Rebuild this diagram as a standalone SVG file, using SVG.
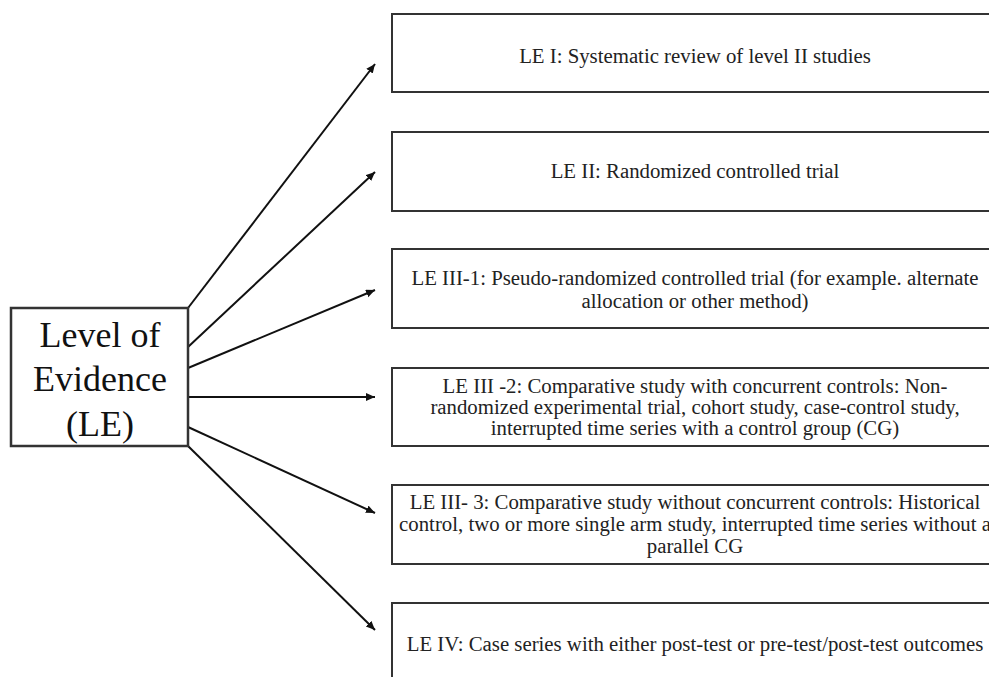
<svg xmlns="http://www.w3.org/2000/svg" width="989" height="677" viewBox="0 0 989 677">
<style>
.box{fill:#fff;stroke:#333;stroke-width:2}
.lbl{font-family:'Liberation Serif','Tinos','Times New Roman','DejaVu Serif',serif;font-size:20.8px;fill:#222;text-anchor:middle}
.big{font-family:'Liberation Serif','Tinos','Times New Roman','DejaVu Serif',serif;font-size:36px;fill:#111;text-anchor:middle}
.arr{stroke:#111;stroke-width:2;fill:none;marker-end:url(#ah)}
</style>
<defs>
<marker id="ah" markerUnits="userSpaceOnUse" markerWidth="10" markerHeight="10" refX="9" refY="4" orient="auto">
<path d="M0,0 L9,4 L0,8 z" fill="#111"/>
</marker>
</defs>
<rect width="989" height="677" fill="#fff"/>
<g id="connectors">
<line class="arr" x1="188" y1="308" x2="375" y2="64"/>
<line class="arr" x1="188" y1="347" x2="375" y2="172"/>
<line class="arr" x1="188" y1="368" x2="375" y2="290"/>
<line class="arr" x1="188" y1="397" x2="375" y2="397"/>
<line class="arr" x1="188" y1="427" x2="375" y2="513"/>
<line class="arr" x1="188" y1="446" x2="375" y2="630"/>
</g>
<g id="node-le">
<rect x="11" y="308" width="177" height="138" fill="#fff" stroke="#333" stroke-width="2.5"/>
<text class="big" x="100" y="347">Level of</text>
<text class="big" x="100" y="391">Evidence</text>
<text class="big" x="100" y="436">(LE)</text>
</g>
<g id="node-le1">
<rect class="box" x="392" y="14" width="620" height="78"/>
<text class="lbl" x="695" y="63">LE I: Systematic review of level II studies</text>
</g>
<g id="node-le2">
<rect class="box" x="392" y="132" width="620" height="79"/>
<text class="lbl" x="695" y="178">LE II: Randomized controlled trial</text>
</g>
<g id="node-le3-1">
<rect class="box" x="392" y="249" width="620" height="79"/>
<text class="lbl" x="695" y="285">LE III-1: Pseudo-randomized controlled trial (for example. alternate</text>
<text class="lbl" x="695" y="308">allocation or other method)</text>
</g>
<g id="node-le3-2">
<rect class="box" x="392" y="368" width="620" height="78"/>
<text class="lbl" x="695" y="393">LE III -2: Comparative study with concurrent controls: Non-</text>
<text class="lbl" x="695" y="414">randomized experimental trial, cohort study, case-control study,</text>
<text class="lbl" x="695" y="435">interrupted time series with a control group (CG)</text>
</g>
<g id="node-le3-3">
<rect class="box" x="392" y="485" width="620" height="79"/>
<text class="lbl" x="695" y="509">LE III- 3: Comparative study without concurrent controls: Historical</text>
<text class="lbl" x="695" y="531">control, two or more single arm study, interrupted time series without a</text>
<text class="lbl" x="695" y="553">parallel CG</text>
</g>
<g id="node-le4">
<rect class="box" x="392" y="603" width="620" height="100"/>
<text class="lbl" x="695" y="651">LE IV: Case series with either post-test or pre-test/post-test outcomes</text>
</g>
</svg>
